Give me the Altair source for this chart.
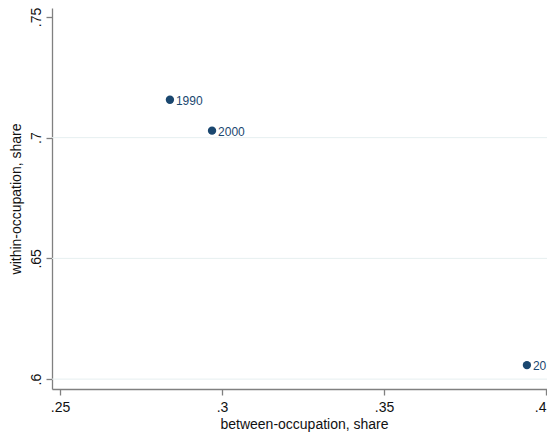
import altair as alt
import pandas as pd

years = ["1990", "2000", "2010"]
between_share = [0.2839, 0.2969, 0.3941]
within_share = [0.7157, 0.7029, 0.6058]
x_ticks = [0.25, 0.30, 0.35, 0.40]
y_ticks = [0.60, 0.65, 0.70, 0.75]
grid_values = [0.60, 0.65, 0.70]

df = pd.DataFrame({"year": years, "between": between_share, "within": within_share})
grid_df = pd.DataFrame({"g": grid_values})

xscale = alt.Scale(domain=[0.2475, 0.4003], nice=False, zero=False)
yscale = alt.Scale(domain=[0.5959, 0.7537], nice=False, zero=False)

FONT = "Liberation Sans"
NAVY = "#1a476f"
AXIS_GRAY = "#808080"

xaxis = alt.Axis(
    values=x_ticks,
    labelExpr="replace(format(datum.value, '.2~f'), /^0/, '')",
    title="between-occupation, share",
    grid=False,
    tickSize=6,
    labelPadding=5,
    titlePadding=3,
    titleX=252,
    titleAnchor="middle",
)
yaxis = alt.Axis(
    values=y_ticks,
    labelExpr="replace(format(datum.value, '.2~f'), /^0/, '')",
    title="within-occupation, share",
    grid=False,
    tickSize=6,
    labelAngle=-90,
    labelAlign="center",
    labelBaseline="bottom",
    labelPadding=3,
    titlePadding=6,
)

grid = alt.Chart(grid_df).mark_rule(color="#e6eff0", strokeWidth=1).encode(
    y=alt.Y("g:Q", scale=yscale, axis=yaxis)
)

points = alt.Chart(df).mark_circle(size=70, color=NAVY, opacity=1, clip=True).encode(
    x=alt.X("between:Q", scale=xscale, axis=xaxis),
    y=alt.Y("within:Q", scale=yscale, axis=yaxis),
)

labels = alt.Chart(df).mark_text(
    align="left", baseline="middle", dx=6, dy=1, fontSize=12, font=FONT, color=NAVY, clip=True
).encode(
    x=alt.X("between:Q", scale=xscale),
    y=alt.Y("within:Q", scale=yscale),
    text="year:N",
)

chart = (
    alt.layer(grid, points, labels)
    .properties(
        width=495,
        height=381,
        autosize=alt.AutoSizeParams(type="none"),
        padding={"left": 44, "top": 0, "right": 0, "bottom": 48},
    )
    .configure_view(stroke=None)
    .configure_axis(
        domainColor=AXIS_GRAY,
        tickColor=AXIS_GRAY,
        domainWidth=1.3,
        tickWidth=1.3,
        labelFont=FONT,
        titleFont=FONT,
        labelFontSize=14,
        titleFontSize=14,
        labelColor="#111111",
        titleColor="#111111",
        titleFontWeight="normal",
    )
)

chart.save("out.html", embed_options={"renderer": "svg", "actions": False})
